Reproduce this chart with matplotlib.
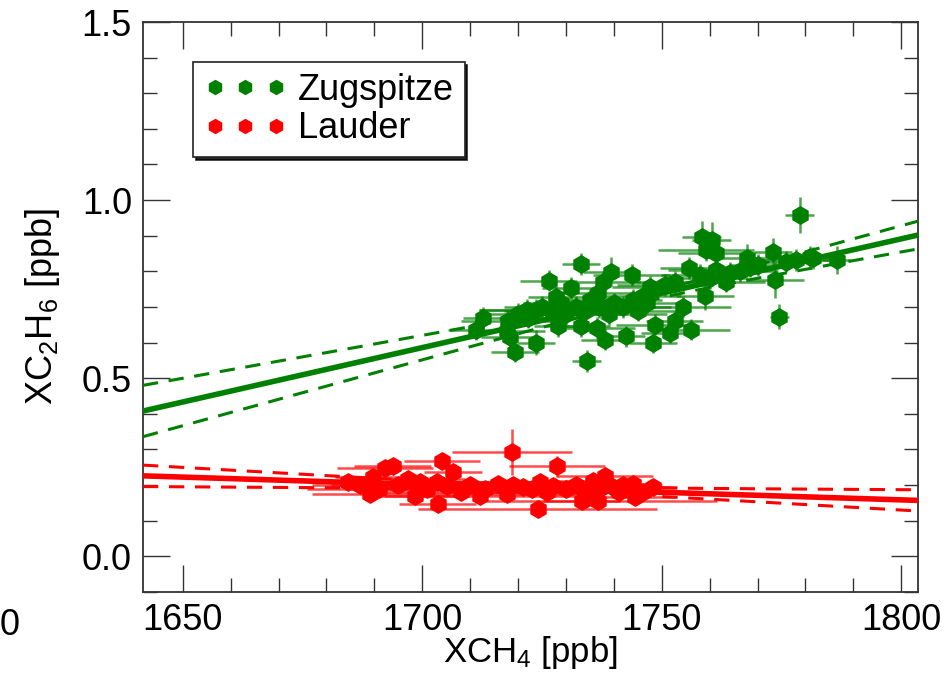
import matplotlib
matplotlib.use('Agg')
import matplotlib.pyplot as plt
import numpy as np
from matplotlib.lines import Line2D
from matplotlib.ticker import MultipleLocator

plt.rcParams['font.family'] = ['Liberation Sans', 'DejaVu Sans']
plt.rcParams['mathtext.default'] = 'regular'

# Zugspitze: XCH4, XC2H6 and their errors
zug_x = [1711.3, 1712.6, 1717.6, 1718.3, 1719.3, 1718.0, 1720.0, 1721.8, 1722.0, 1723.8,
         1723.8, 1725.0, 1726.4, 1727.0, 1728.0, 1728.3, 1729.0, 1730.0, 1731.1, 1732.0,
         1733.2, 1733.2, 1734.0, 1734.3, 1735.0, 1736.4, 1736.7, 1737.0, 1737.7, 1738.1,
         1739.0, 1739.5, 1740.0, 1742.0, 1742.6, 1743.7, 1744.0, 1745.0, 1746.0, 1747.0,
         1747.6, 1748.1, 1748.5, 1750.6, 1751.7, 1752.7, 1752.7, 1754.4, 1755.7, 1756.2,
         1757.9, 1758.3, 1759.0, 1759.3, 1760.0, 1760.4, 1761.4, 1761.4, 1763.5, 1764.2,
         1766.3, 1767.7, 1768.4, 1770.0, 1773.2, 1773.6, 1774.5, 1776.0, 1778.1, 1778.8,
         1780.9, 1781.6, 1786.5]
zug_y = [0.636, 0.669, 0.632, 0.617, 0.575, 0.660, 0.680, 0.692, 0.670, 0.600,
         0.692, 0.700, 0.774, 0.690, 0.729, 0.646, 0.710, 0.680, 0.753, 0.700,
         0.821, 0.646, 0.690, 0.548, 0.720, 0.641, 0.739, 0.700, 0.771, 0.608,
         0.680, 0.799, 0.710, 0.700, 0.618, 0.790, 0.720, 0.690, 0.730, 0.710,
         0.757, 0.600, 0.650, 0.762, 0.628, 0.771, 0.660, 0.701, 0.809, 0.636,
         0.790, 0.897, 0.731, 0.860, 0.781, 0.888, 0.851, 0.804, 0.771, 0.796,
         0.800, 0.837, 0.813, 0.818, 0.855, 0.776, 0.673, 0.827, 0.832, 0.958,
         0.841, 0.837, 0.832]
zug_xerr = [6, 4, 8, 6, 5, 10, 8, 10, 6, 4,
            12, 8, 6, 10, 6, 5, 8, 12, 6, 8,
            4, 6, 10, 3, 6, 8, 10, 6, 8, 5,
            12, 6, 8, 10, 4, 8, 6, 10, 8, 6,
            8, 5, 8, 10, 6, 8, 6, 10, 6, 8,
            8, 4, 6, 10, 8, 4, 8, 10, 8, 6,
            8, 6, 8, 6, 4, 6, 2, 6, 8, 3,
            6, 4, 3]
zug_yerr = [0.03, 0.03, 0.03, 0.03, 0.03, 0.03, 0.03, 0.03, 0.03, 0.035,
            0.03, 0.03, 0.03, 0.03, 0.03, 0.03, 0.03, 0.03, 0.03, 0.03,
            0.03, 0.03, 0.03, 0.03, 0.03, 0.03, 0.03, 0.03, 0.03, 0.03,
            0.03, 0.04, 0.03, 0.03, 0.03, 0.03, 0.03, 0.03, 0.03, 0.03,
            0.03, 0.03, 0.03, 0.03, 0.03, 0.03, 0.03, 0.03, 0.03, 0.03,
            0.03, 0.045, 0.04, 0.03, 0.03, 0.05, 0.03, 0.03, 0.03, 0.03,
            0.03, 0.04, 0.03, 0.03, 0.04, 0.05, 0.035, 0.03, 0.03, 0.05,
            0.03, 0.03, 0.04]

# Lauder
lau_x = [1684.4, 1687.0, 1689.0, 1689.7, 1691.0, 1692.2, 1693.8, 1695.0, 1697.0, 1698.4,
         1699.5, 1701.0, 1703.2, 1703.0, 1704.1, 1705.1, 1706.4, 1708.0, 1710.0, 1712.0,
         1713.0, 1715.8, 1717.6, 1718.7, 1719.0, 1721.0, 1723.0, 1724.1, 1724.5, 1726.0,
         1727.2, 1728.1, 1730.0, 1732.0, 1733.3, 1734.0, 1735.6, 1736.6, 1737.0, 1738.1,
         1739.8, 1741.0, 1742.0, 1743.9, 1744.4, 1746.0, 1748.1]
lau_y = [0.208, 0.200, 0.175, 0.222, 0.190, 0.247, 0.253, 0.200, 0.217, 0.169,
         0.208, 0.190, 0.147, 0.210, 0.267, 0.197, 0.236, 0.180, 0.200, 0.169,
         0.190, 0.203, 0.175, 0.292, 0.200, 0.194, 0.190, 0.133, 0.208, 0.180,
         0.197, 0.253, 0.190, 0.200, 0.155, 0.180, 0.211, 0.155, 0.190, 0.225,
         0.194, 0.180, 0.200, 0.203, 0.166, 0.180, 0.194]
lau_xerr = [6, 10, 12, 8, 15, 10, 8, 14, 12, 10,
            15, 12, 8, 20, 8, 10, 6, 18, 14, 20,
            10, 12, 16, 12.5, 12, 10, 14, 25, 14, 12,
            10, 10, 14, 8, 8, 12, 10, 25, 8, 10,
            12, 10, 8, 6, 8, 6, 5]
lau_yerr = [0.01, 0.01, 0.015, 0.01, 0.01, 0.015, 0.015, 0.01, 0.01, 0.015,
            0.01, 0.01, 0.01, 0.01, 0.01, 0.01, 0.01, 0.01, 0.01, 0.01,
            0.01, 0.01, 0.01, 0.065, 0.01, 0.01, 0.01, 0.015, 0.01, 0.01,
            0.01, 0.03, 0.01, 0.01, 0.015, 0.01, 0.01, 0.015, 0.01, 0.015,
            0.01, 0.01, 0.01, 0.01, 0.01, 0.01, 0.01]

# regression lines: value at left edge, slope, and confidence band (a, b, centre)
zug_fit = dict(y0=0.408, slope=0.003053, a=0.012, b=0.000668, xm=1748.0)
lau_fit = dict(y0=0.226, slope=-0.000426, a=0.007, b=0.00036, xm=1723.0)

XMIN, XMAX = 1641.7, 1803.5
GREEN = '#008000'
RED = '#ff0000'
FS = 26

fig = plt.figure(figsize=(9.46, 6.73), dpi=100)
ax = fig.add_axes([0.1512, 0.1204, 0.8192, 0.8469])

for xs, ys, xe, ye, c in [(zug_x, zug_y, zug_xerr, zug_yerr, GREEN),
                          (lau_x, lau_y, lau_xerr, lau_yerr, RED)]:
    ax.errorbar(xs, ys, xerr=xe, yerr=ye, fmt='none', ecolor=c,
                elinewidth=1.8, alpha=0.7, capsize=0, zorder=2)
    ax.plot(xs, ys, 'h', color=c, mec=c, ms=12.5, ls='none', zorder=3)

xx = np.linspace(XMIN, XMAX, 300)
for fit, c in [(zug_fit, GREEN), (lau_fit, RED)]:
    yy = fit['y0'] + fit['slope'] * (xx - XMIN)
    hw = np.sqrt(fit['a'] ** 2 + fit['b'] ** 2 * (xx - fit['xm']) ** 2)
    ax.plot(xx, yy, color=c, lw=4, zorder=4, solid_capstyle='butt')
    ax.plot(xx, yy + hw, color=c, lw=2.2, ls=(0, (5, 3.5)), zorder=4)
    ax.plot(xx, yy - hw, color=c, lw=2.2, ls=(0, (5, 3.5)), zorder=4)

ax.set_xlim(XMIN, XMAX)
ax.set_ylim(-0.1, 1.5)
ax.xaxis.set_major_locator(MultipleLocator(50))
ax.xaxis.set_minor_locator(MultipleLocator(10))
ax.yaxis.set_major_locator(MultipleLocator(0.5))
ax.yaxis.set_minor_locator(MultipleLocator(0.1))
ax.yaxis.set_major_formatter(plt.FormatStrFormatter('%.1f'))
ax.tick_params(which='both', direction='in', top=True, right=True, width=1.0,
               color='#333333', labelsize=FS)
ax.tick_params(which='major', length=19.5, pad=8)
ax.tick_params(which='minor', length=10)
for sp in ax.spines.values():
    sp.set_linewidth(1.3)
    sp.set_color('#333333')

ax.set_xlabel('XCH$_4$ [ppb]', fontsize=25, labelpad=-3)
ax.set_ylabel('XC$_2$H$_6$ [ppb]', fontsize=FS, labelpad=14)

handles = [Line2D([], [], marker='h', color=GREEN, mec=GREEN, ls='none', ms=10),
           Line2D([], [], marker='h', color=RED, mec=RED, ls='none', ms=10)]
leg = ax.legend(handles, ['Zugspitze', 'Lauder'], loc='upper left',
                bbox_to_anchor=(0.0645, 0.93), borderaxespad=0, numpoints=3,
                fontsize=FS, fancybox=False, framealpha=1, edgecolor='#222222',
                handlelength=2.3, handletextpad=0.3, labelspacing=0.1,
                borderpad=0.3, shadow={'color': 'k', 'alpha': 0.85})
leg.get_frame().set_linewidth(1.2)

# clipped tick label of the neighbouring panel
fig.text(0.0, 0.071, '0', fontsize=FS, ha='left', va='center')

fig.savefig('out.png', dpi=100)
